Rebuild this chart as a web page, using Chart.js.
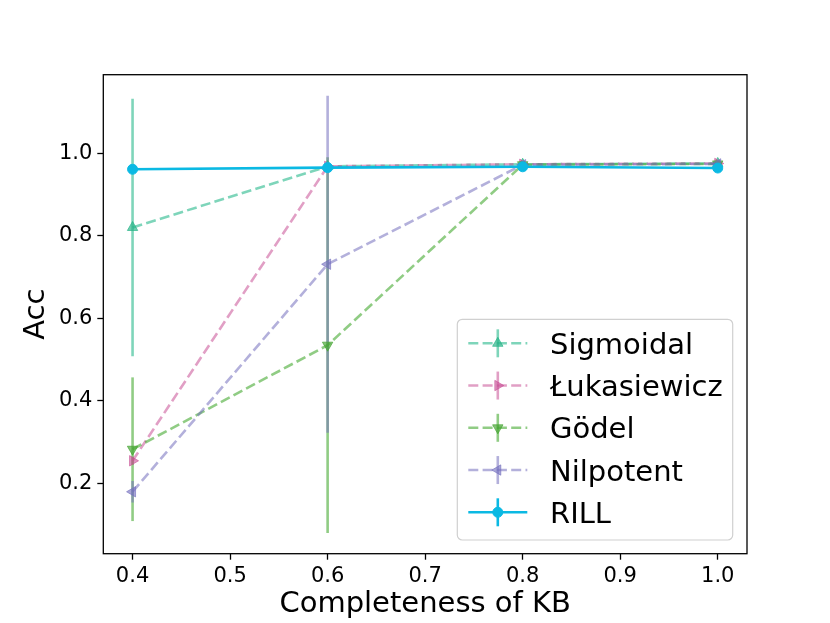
<!DOCTYPE html>
<html><head><meta charset="utf-8">
<script src="https://cdn.jsdelivr.net/npm/chart.js@4.4.1/dist/chart.umd.min.js"></script>
<style>html,body{margin:0;padding:0;background:#fff;}#wrap{width:830px;height:623px;}</style>
</head><body><div id="wrap"><canvas id="c" width="830" height="623"></canvas></div>
<script>
// ---- data ----
const xValues = [0.4, 0.6, 0.8, 1.0];
const seriesNames = ['Sigmoidal', 'Łukasiewicz', 'Gödel', 'Nilpotent', 'RILL'];
const sigmoidal = [0.820, 0.968, 0.973, 0.975];
const sigmoidalErr = [0.312, 0.004, 0.003, 0.003];
const lukasiewicz = [0.255, 0.968, 0.973, 0.975];
const lukasiewiczErr = [0.010, 0.004, 0.003, 0.003];
const godel = [0.283, 0.535, 0.972, 0.974];
const godelErr = [0.174, 0.455, 0.004, 0.003];
const nilpotent = [0.180, 0.731, 0.972, 0.974];
const nilpotentErr = [0.026, 0.408, 0.004, 0.003];
const rill = [0.961, 0.965, 0.967, 0.964];
const rillErr = [0.002, 0.002, 0.002, 0.002];
const xTicks = [0.4, 0.5, 0.6, 0.7, 0.8, 0.9, 1.0];
const yTicks = [0.2, 0.4, 0.6, 0.8, 1.0];
const xTitle = 'Completeness of KB';
const yTitle = 'Acc';

// ---- styles ----
const FONT = 'DejaVu Sans';
const styles = [
  {line: 'rgba(40,185,140,0.6)', pt: 'rgba(40,180,135,0.68)', style: 'triangle', rot: 0, dash: [10, 4.3], r: 6},
  {line: 'rgba(200,80,150,0.55)', pt: 'rgba(200,80,150,0.6)', style: 'triangle', rot: 90, dash: [10, 4.3], r: 6},
  {line: 'rgba(70,170,50,0.6)', pt: 'rgba(70,165,50,0.68)', style: 'triangle', rot: 180, dash: [10, 4.3], r: 6},
  {line: 'rgba(117,112,190,0.55)', pt: 'rgba(117,112,190,0.62)', style: 'triangle', rot: 270, dash: [10, 4.3], r: 6},
  {line: '#0bb9e3', pt: '#0bb9e3', style: 'circle', rot: 0, dash: [], r: 5}
];
const values = [sigmoidal, lukasiewicz, godel, nilpotent, rill];
const errors = [sigmoidalErr, lukasiewiczErr, godelErr, nilpotentErr, rillErr];

const datasets = seriesNames.map((name, i) => ({
  label: name,
  data: xValues.map((x, j) => ({x: x, y: values[i][j]})),
  errors: errors[i],
  borderColor: styles[i].line,
  backgroundColor: styles[i].pt,
  borderWidth: 2.6,
  borderDash: styles[i].dash,
  pointStyle: styles[i].style,
  pointRotation: styles[i].rot,
  pointRadius: styles[i].r,
  pointBackgroundColor: styles[i].pt,
  pointBorderColor: styles[i].pt,
  pointBorderWidth: 1,
  tension: 0,
  fill: false,
  order: 4 - i
}));

const errorBarPlugin = {
  id: 'errbars',
  beforeDatasetsDraw(chart) {
    const {ctx, scales: {x, y}} = chart;
    ctx.save();
    ctx.lineWidth = 2.6;
    chart.data.datasets.forEach(ds => {
      ctx.strokeStyle = ds.borderColor;
      ds.data.forEach((p, j) => {
        const e = ds.errors[j];
        const px = x.getPixelForValue(p.x);
        ctx.beginPath();
        ctx.moveTo(px, y.getPixelForValue(p.y - e));
        ctx.lineTo(px, y.getPixelForValue(p.y + e));
        ctx.stroke();
      });
    });
    ctx.restore();
  }
};

function drawMarker(ctx, ds, x, y) {
  const opts = {pointStyle: ds.pointStyle, radius: ds.pointRadius, rotation: ds.pointRotation, borderWidth: ds.pointBorderWidth};
  ctx.fillStyle = ds.pointBackgroundColor;
  ctx.strokeStyle = ds.pointBorderColor;
  ctx.lineWidth = ds.pointBorderWidth;
  Chart.helpers.drawPoint(ctx, opts, x, y);
}

const framePlugin = {
  id: 'frame',
  afterDraw(chart) {
    const {ctx, chartArea: a} = chart;
    ctx.save();
    ctx.strokeStyle = '#000';
    ctx.lineWidth = 1.3;
    ctx.strokeRect(a.left, a.top, a.right - a.left, a.bottom - a.top);
    ctx.restore();
  }
};

const legendPlugin = {
  id: 'mplLegend',
  afterDraw(chart) {
    const ctx = chart.ctx;
    const bx = 457.3, by = 319.3, bw = 275.4, bh = 220.7, r = 5;
    ctx.save();
    ctx.beginPath();
    ctx.moveTo(bx + r, by);
    ctx.arcTo(bx + bw, by, bx + bw, by + bh, r);
    ctx.arcTo(bx + bw, by + bh, bx, by + bh, r);
    ctx.arcTo(bx, by + bh, bx, by, r);
    ctx.arcTo(bx, by, bx + bw, by, r);
    ctx.closePath();
    ctx.fillStyle = 'rgba(255,255,255,0.8)';
    ctx.fill();
    ctx.strokeStyle = '#d0d0d0';
    ctx.lineWidth = 1.2;
    ctx.stroke();
    chart.data.datasets.forEach((ds, i) => {
      const cy = 343.3 + i * 42.25;
      const x0 = 468.3, x1 = 527.3, mx = 497.8;
      ctx.strokeStyle = ds.borderColor;
      ctx.lineWidth = 2.6;
      ctx.setLineDash(ds.borderDash);
      ctx.beginPath(); ctx.moveTo(x0, cy); ctx.lineTo(x1, cy); ctx.stroke();
      ctx.setLineDash([]);
      ctx.beginPath(); ctx.moveTo(mx, cy - 14); ctx.lineTo(mx, cy + 14); ctx.stroke();
      drawMarker(ctx, ds, mx, cy);
      ctx.fillStyle = '#000';
      ctx.font = '29px "' + FONT + '"';
      ctx.textBaseline = 'alphabetic';
      ctx.textAlign = 'left';
      ctx.fillText(ds.label, 550, cy + 10.5);
    });
    ctx.restore();
  }
};

new Chart(document.getElementById('c'), {
  type: 'line',
  data: {datasets: datasets},
  plugins: [errorBarPlugin, framePlugin, legendPlugin],
  options: {
    responsive: false,
    animation: false,
    devicePixelRatio: 1,
    layout: {padding: {left: 0, top: 74.7, right: 83, bottom: 0}},
    plugins: {legend: {display: false}, tooltip: {enabled: false}},
    scales: {
      x: {
        type: 'linear', min: 0.37, max: 1.03,
        afterBuildTicks: s => { s.ticks = xTicks.map(v => ({value: v})); },
        afterFit: s => { s.height = 69.3; },
        border: {display: false},
        grid: {drawOnChartArea: false, drawTicks: true, tickLength: 6, tickColor: '#000', tickWidth: 1.3},
        ticks: {color: '#000', padding: 4, font: {family: FONT, size: 21}, callback: v => v.toFixed(1), maxRotation: 0, autoSkip: false},
        title: {display: true, text: xTitle, color: '#000', font: {family: FONT, size: 29}, padding: {top: 0, bottom: 1}}
      },
      y: {
        type: 'linear', min: 0.03, max: 1.19,
        afterBuildTicks: s => { s.ticks = yTicks.map(v => ({value: v})); },
        afterFit: s => { s.width = 103.3; },
        border: {display: false},
        grid: {drawOnChartArea: false, drawTicks: true, tickLength: 6, tickColor: '#000', tickWidth: 1.3},
        ticks: {color: '#000', padding: 5, font: {family: FONT, size: 21}, callback: v => v.toFixed(1), autoSkip: false},
        title: {display: true, text: yTitle, color: '#000', font: {family: FONT, size: 29}, padding: {top: 19, bottom: 0}}
      }
    }
  }
});
</script>
</body></html>
